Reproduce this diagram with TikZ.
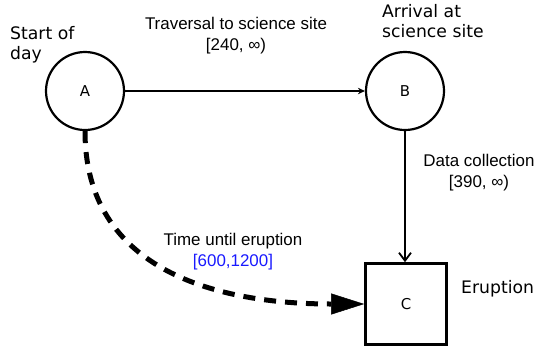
\documentclass[tikz,border=0pt]{standalone}
\usepackage{fontspec}
\setmainfont{DejaVu Sans}
\newfontfamily\arialfont{Liberation Sans}
\usetikzlibrary{arrows.meta}
\definecolor{rangeblue}{RGB}{25,25,255}
\begin{document}
\begin{tikzpicture}[x=1bp,y=-1bp,
  state/.style={circle,draw,line width=2.2bp,minimum size=78bp,inner sep=0pt,
    font=\fontsize{15}{18}\selectfont},
  endbox/.style={rectangle,draw,line width=2.6bp,minimum size=81bp,inner sep=0pt,
    font=\fontsize{15}{18}\selectfont},
  side/.style={font=\fontsize{17.3}{20}\selectfont,align=left,inner sep=0pt},
  edgelbl/.style={font=\arialfont\fontsize{17}{21}\selectfont,align=center,inner sep=0pt},
  link/.style={line width=1.8bp},
]
\useasboundingbox (0,0) rectangle (535,350);

% events
\node[state] (A) at (85,91) {A};
\node[state] (B) at (405,91) {B};
\node[endbox] (C) at (406,304) {C};

% event descriptions (anchored on the baseline of their last line)
\node[side,anchor=base west] (startlbl) at (10,59) {Start of\\day};
\node[side,anchor=base west] (arrlbl) at (382,37) {Arrival at\\science site};
\node[side,anchor=base west] (erulbl) at (461,293) {Eruption};

% constraints
\draw[link,-{Stealth[length=7bp,width=6.5bp]}] (A) -- (B);
\draw[link,-{Straight Barb[length=8bp,width=12bp]}] (B.south) -- (B.south |- C.north);
\draw[line width=5bp,dash pattern=on 12bp off 9bp,
      -{Triangle[length=33bp,width=21bp,line width=0.5bp]}]
  (A.south) .. controls +(0,140) and +(-146,0) .. (C.west);

% constraint labels
\node[edgelbl,anchor=base] (travlbl) at (236,50) {Traversal to science site\\{[}240, ∞)};
\node[edgelbl,anchor=base] (datalbl) at (479,187) {Data collection\\{[}390, ∞)};
\node[edgelbl,anchor=base] (eruptlbl) at (233,266) {Time until eruption\\\textcolor{rangeblue}{[600,1200]}};
\end{tikzpicture}
\end{document}
